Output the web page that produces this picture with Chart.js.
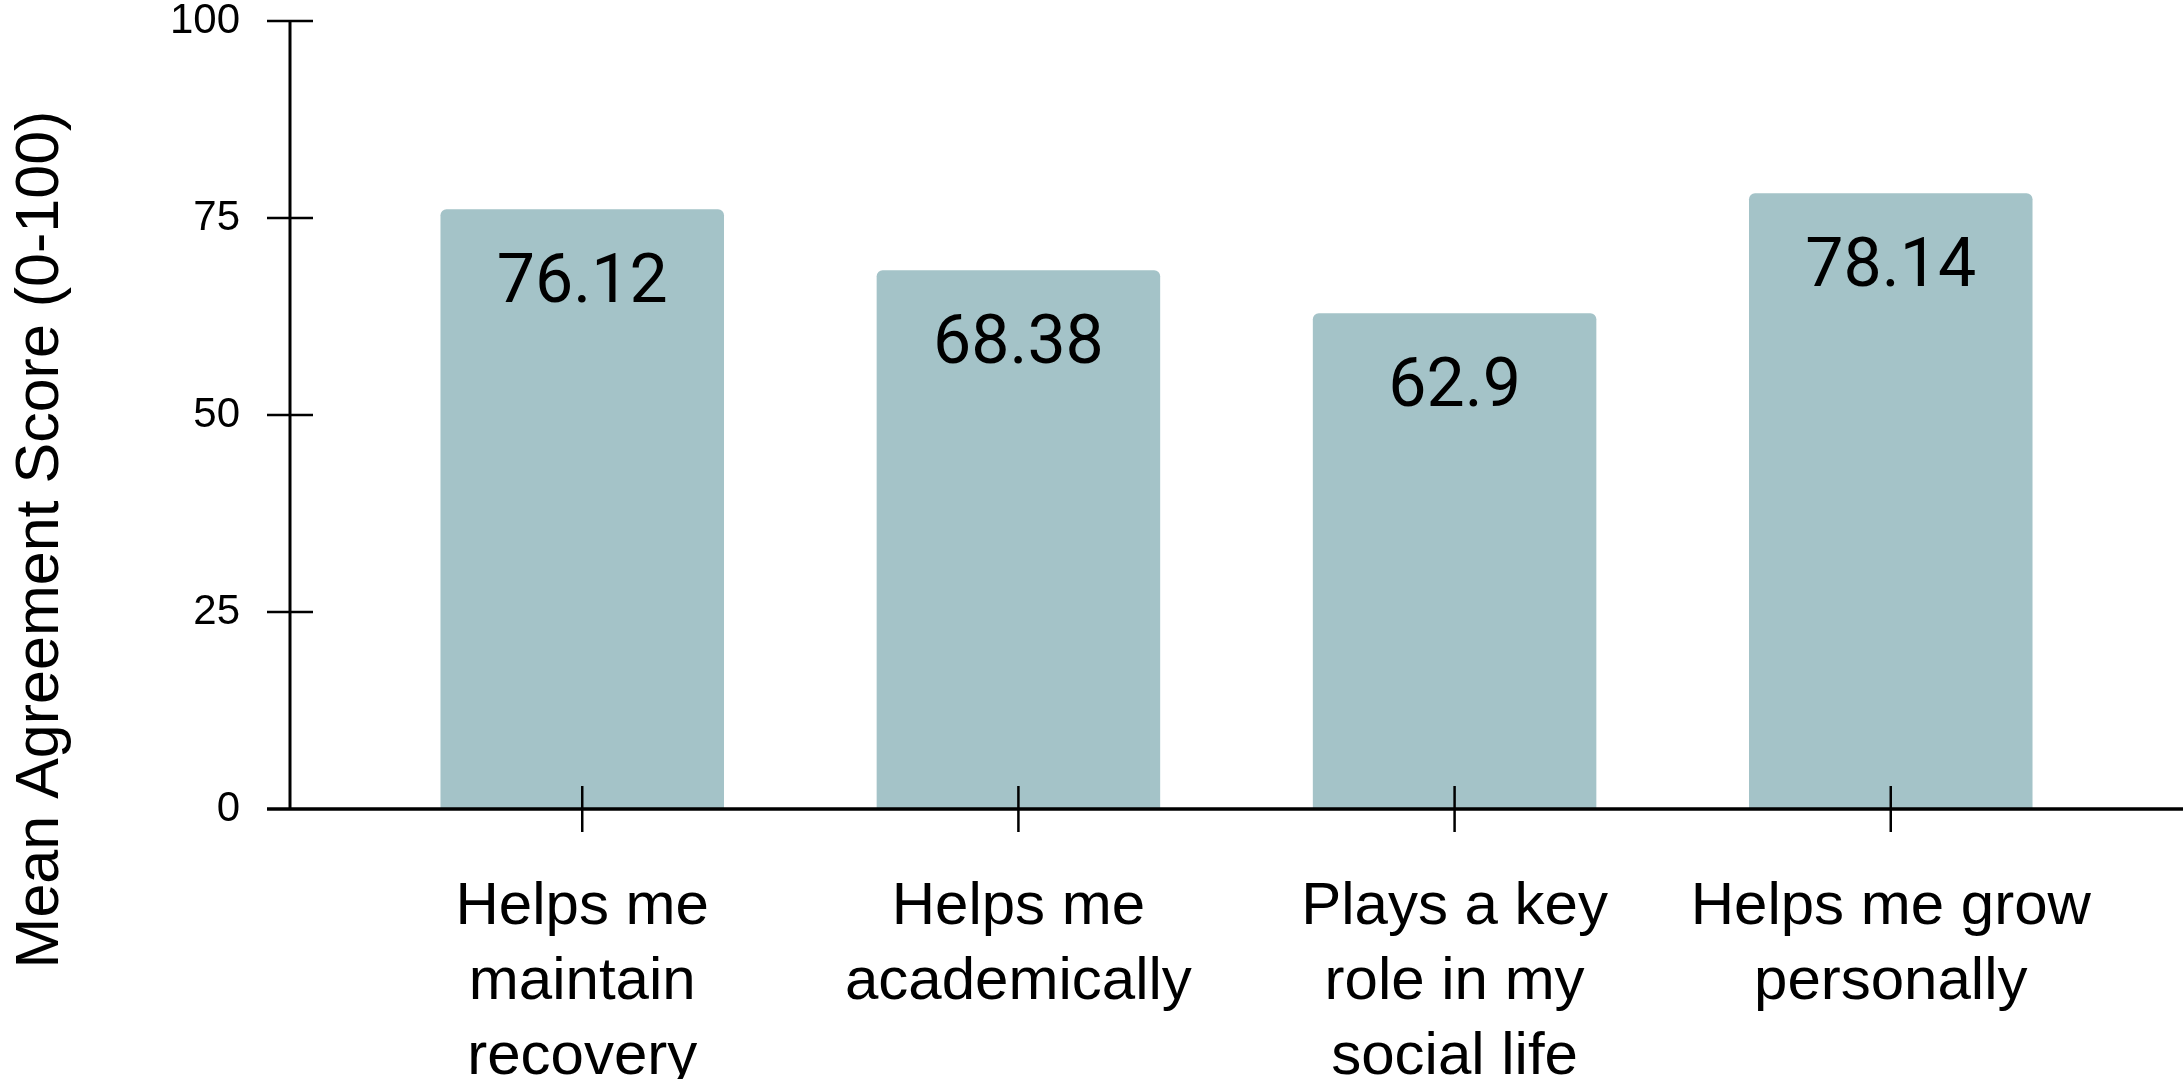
<!DOCTYPE html>
<html>
<head>
<meta charset="utf-8">
<script src="https://cdn.jsdelivr.net/npm/chart.js@4.4.0/dist/chart.umd.min.js"></script>
<style>
    html, body { margin: 0; padding: 0; background: #fff; }
    #wrap { width: 2183px; height: 1079px; position: relative; }
</style>
</head>
<body>
<div id="wrap"><canvas id="scoreChart"></canvas></div>
<script>
// Chart data
const categories = [
    ['Helps me', 'maintain', 'recovery'],
    ['Helps me', 'academically'],
    ['Plays a key', 'role in my', 'social life'],
    ['Helps me grow', 'personally']
];
const scores = [76.12, 68.38, 62.9, 78.14];
const valueLabels = ['76.12', '68.38', '62.9', '78.14'];
const yTicks = [0, 25, 50, 75, 100];
const yTitle = 'Mean Agreement Score (0-100)';

const BAR_COLOR = '#a4c3c8';
const SANS = "'Liberation Sans', Arial, sans-serif";

// Axis lines with ticks that cross the axis, value labels and the y title
const decorPlugin = {
    id: 'decor',
    afterDatasetsDraw(chart) {
        const ctx = chart.ctx;
        const x = chart.scales.x;
        const y = chart.scales.y;
        const area = chart.chartArea;
        const meta = chart.getDatasetMeta(0);

        // value labels inside the bars
        ctx.save();
        ctx.fillStyle = '#000';
        ctx.font = "68px Roboto, 'Liberation Sans', sans-serif";
        ctx.textAlign = 'center';
        ctx.textBaseline = 'alphabetic';
        meta.data.forEach((bar, i) => {
            ctx.fillText(valueLabels[i], bar.x, bar.y + 93);
        });
        ctx.restore();

        ctx.save();
        ctx.strokeStyle = '#000';
        ctx.lineCap = 'butt';

        // y axis line
        ctx.lineWidth = 3;
        ctx.beginPath();
        ctx.moveTo(area.left, y.getPixelForValue(100));
        ctx.lineTo(area.left, y.getPixelForValue(0));
        ctx.stroke();

        // x axis line
        ctx.lineWidth = 3.5;
        ctx.beginPath();
        ctx.moveTo(area.left - 23, y.getPixelForValue(0));
        ctx.lineTo(chart.width, y.getPixelForValue(0));
        ctx.stroke();

        // y ticks
        ctx.lineWidth = 2.7;
        yTicks.forEach(v => {
            if (v === 0) return;
            const py = y.getPixelForValue(v);
            ctx.beginPath();
            ctx.moveTo(area.left - 23, py);
            ctx.lineTo(area.left + 23, py);
            ctx.stroke();
        });

        // x ticks
        ctx.lineWidth = 2.5;
        categories.forEach((c, i) => {
            const px = x.getPixelForValue(i);
            const py = y.getPixelForValue(0);
            ctx.beginPath();
            ctx.moveTo(px, py - 23);
            ctx.lineTo(px, py + 23);
            ctx.stroke();
        });
        ctx.restore();

        // y axis title
        ctx.save();
        ctx.fillStyle = '#000';
        ctx.font = '61px ' + SANS;
        ctx.textAlign = 'center';
        ctx.textBaseline = 'alphabetic';
        ctx.translate(58, chart.height / 2);
        ctx.rotate(-Math.PI / 2);
        ctx.fillText(yTitle, 0, 0);
        ctx.restore();
    }
};

const noPadding = scale => {
    scale.paddingTop = 0;
    scale.paddingBottom = 0;
    scale.paddingLeft = 0;
    scale.paddingRight = 0;
};

const chart = new Chart(document.getElementById('scoreChart'), {
    type: 'bar',
    data: {
        datasets: [{
            data: scores.map((v, i) => ({ x: i, y: v })),
            backgroundColor: BAR_COLOR,
            borderWidth: 0,
            borderRadius: { topLeft: 6, topRight: 6 },
            borderSkipped: 'bottom',
            categoryPercentage: 1,
            barPercentage: 0.65
        }]
    },
    options: {
        responsive: true,
        maintainAspectRatio: false,
        animation: false,
        layout: { padding: { top: 21, right: 0, left: 0, bottom: 0 } },
        plugins: {
            legend: { display: false },
            tooltip: { enabled: false }
        },
        scales: {
            x: {
                type: 'linear',
                min: -0.67,
                max: 3.67,
                offset: false,
                grid: { display: false, drawTicks: false },
                border: { display: false },
                afterBuildTicks: scale => {
                    scale.ticks = categories.map((c, i) => ({ value: i }));
                },
                afterFit: scale => {
                    scale.height = 270;
                    noPadding(scale);
                },
                ticks: {
                    autoSkip: false,
                    maxRotation: 0,
                    padding: 61,
                    color: '#000',
                    font: { family: SANS, size: 60, lineHeight: '75px' },
                    callback: value => categories[value]
                }
            },
            y: {
                min: 0,
                max: 100,
                grid: { display: false, drawTicks: false },
                border: { display: false },
                afterBuildTicks: scale => {
                    scale.ticks = yTicks.map(v => ({ value: v }));
                },
                afterFit: scale => {
                    scale.width = 290;
                    noPadding(scale);
                },
                ticks: {
                    padding: 50,
                    color: '#000',
                    font: { family: SANS, size: 42 }
                }
            }
        }
    },
    plugins: [decorPlugin]
});
</script>
</body>
</html>
